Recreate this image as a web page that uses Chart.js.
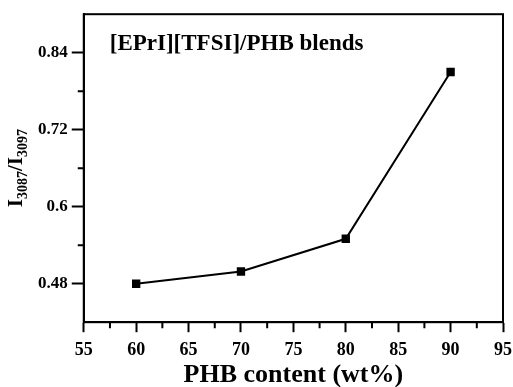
<!DOCTYPE html>
<html>
<head>
<meta charset="utf-8">
<script src="https://cdn.jsdelivr.net/npm/chart.js@4.4.0/dist/chart.umd.min.js"></script>
<style>
  html, body { margin: 0; padding: 0; background: #fff; }
  #wrap { width: 513px; height: 387px; }
</style>
</head>
<body>
<div id="wrap"><canvas id="chart"></canvas></div>
<script>
// data
const phbContent = [60, 70, 80, 90];
const intensityRatio = [0.480, 0.499, 0.550, 0.810];

const xMajorTicks = [55, 60, 65, 70, 75, 80, 85, 90, 95];
const xMinorTicks = [57.5, 62.5, 67.5, 72.5, 77.5, 82.5, 87.5, 92.5];
const yMajorTicks = [0.48, 0.6, 0.72, 0.84];
const yMinorTicks = [0.54, 0.66, 0.78];

const serif = "'Liberation Serif', 'Times New Roman', serif";

// frame, minor ticks, inner label and y title with subscripts
const decorations = {
    id: 'decorations',
    afterDraw(chart) {
        const ctx = chart.ctx;
        const area = chart.chartArea;
        const xs = chart.scales.x;
        const ys = chart.scales.y;
        ctx.save();
        ctx.strokeStyle = '#000';
        ctx.lineWidth = 2;
        ctx.strokeRect(area.left, area.top, area.right - area.left, area.bottom - area.top);

        // short minor ticks
        ctx.beginPath();
        xMinorTicks.forEach(v => {
            const px = xs.getPixelForValue(v);
            ctx.moveTo(px, area.bottom);
            ctx.lineTo(px, area.bottom + 6);
        });
        yMinorTicks.forEach(v => {
            const py = ys.getPixelForValue(v);
            ctx.moveTo(area.left, py);
            ctx.lineTo(area.left - 6, py);
        });
        ctx.stroke();

        // label inside the plot
        ctx.fillStyle = '#000';
        ctx.font = 'bold 23px ' + serif;
        ctx.textBaseline = 'alphabetic';
        ctx.textAlign = 'left';
        ctx.fillText('[EPrI][TFSI]/PHB blends', area.left + 26, area.top + 36);

        // y axis title: I3087/I3097 with subscripts
        ctx.translate(22, (area.top + area.bottom) / 2);
        ctx.rotate(-Math.PI / 2);
        const parts = [['I', 21, 0], ['3087', 14, 5], ['/I', 21, 0], ['3097', 14, 5]];
        let total = 0;
        parts.forEach(p => { ctx.font = 'bold ' + p[1] + 'px ' + serif; total += ctx.measureText(p[0]).width; });
        let x = -total / 2;
        parts.forEach(p => {
            ctx.font = 'bold ' + p[1] + 'px ' + serif;
            ctx.fillText(p[0], x, p[2]);
            x += ctx.measureText(p[0]).width;
        });
        ctx.restore();
    }
};

const ctx = document.getElementById('chart').getContext('2d');
const myChart = new Chart(ctx, {
    type: 'line',
    data: {
        datasets: [{
            data: phbContent.map((x, i) => ({ x: x, y: intensityRatio[i] })),
            borderColor: '#000',
            backgroundColor: '#000',
            borderWidth: 2,
            pointStyle: 'rect',
            pointRadius: 4.5,
            pointHoverRadius: 4.5,
            tension: 0
        }]
    },
    options: {
        responsive: true,
        maintainAspectRatio: false,
        animation: false,
        layout: { padding: { left: 34, right: 10, top: 14, bottom: -4 } },
        plugins: {
            legend: { display: false },
            tooltip: { enabled: false }
        },
        scales: {
            x: {
                type: 'linear',
                min: 55,
                max: 95,
                afterBuildTicks: axis => { axis.ticks = xMajorTicks.map(v => ({ value: v })); },
                afterFit: axis => { axis.paddingRight = 0; axis.paddingLeft = 0; },
                grid: { drawOnChartArea: false, tickLength: 10, tickWidth: 2, tickColor: '#000' },
                border: { display: true, color: '#000', width: 2 },
                ticks: {
                    color: '#000',
                    padding: 7,
                    maxRotation: 0,
                    font: { family: serif, size: 18, weight: 'bold' }
                },
                title: {
                    display: true,
                    text: 'PHB content (wt%)',
                    color: '#000',
                    padding: { top: -8, bottom: 0 },
                    font: { family: serif, size: 26, weight: 'bold' }
                }
            },
            y: {
                type: 'linear',
                min: 0.42,
                max: 0.9,
                afterBuildTicks: axis => { axis.ticks = yMajorTicks.map(v => ({ value: v })); },
                grid: { drawOnChartArea: false, tickLength: 12, tickWidth: 2, tickColor: '#000' },
                border: { display: true, color: '#000', width: 2 },
                ticks: {
                    color: '#000',
                    padding: 4,
                    font: { family: serif, size: 17, weight: 'bold' },
                    callback: v => String(Math.round(v * 100) / 100)
                }
            }
        }
    },
    plugins: [decorations]
});
</script>
</body>
</html>
